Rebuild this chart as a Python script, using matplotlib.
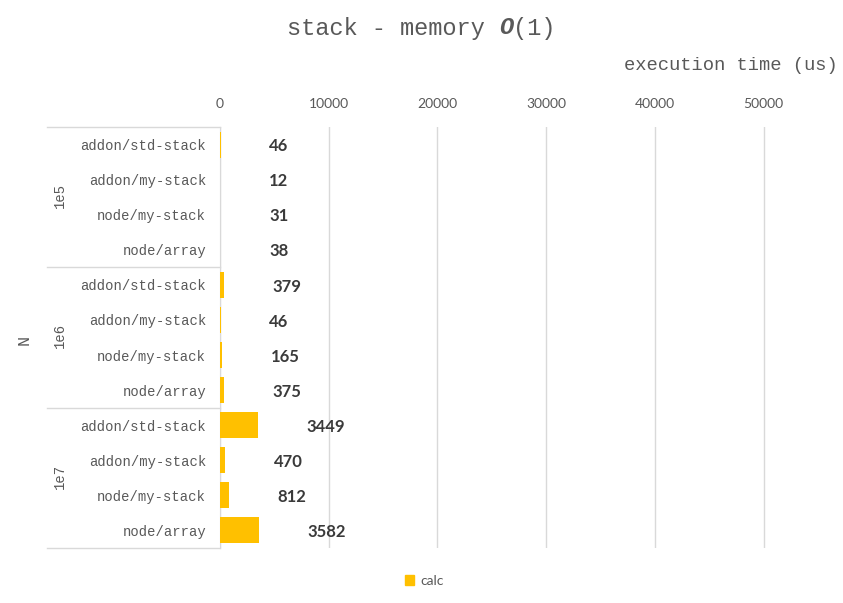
import matplotlib
matplotlib.use("Agg")
import matplotlib.pyplot as plt
from matplotlib.patches import Patch
import numpy as np

# data, top to bottom
groups = ["1e5", "1e6", "1e7"]
impls = ["addon/std-stack", "addon/my-stack", "node/my-stack", "node/array"]
calc_1e5 = [46, 12, 31, 38]
calc_1e6 = [379, 46, 165, 375]
calc_1e7 = [3449, 470, 812, 3582]
x_ticks = [0, 10000, 20000, 30000, 40000, 50000]

MONO = "Liberation Mono"
SANS = "Lato"
BAR = "#FFC000"
GRAY = "#595959"
GRID = "#D9D9D9"

W, H = 843, 603
fig = plt.figure(figsize=(W / 100, H / 100), dpi=100)
ax = fig.add_axes([220 / W, (H - 548) / H, (818 - 220) / W, (548 - 127) / H])

values = calc_1e5 + calc_1e6 + calc_1e7
labels = impls * len(groups)
y = np.arange(len(values))

ax.barh(y, values, height=0.74, color=BAR, zorder=3)
ax.set_ylim(len(values) - 0.5, -0.5)
ax.set_xlim(0, 55000)

for yi, v in zip(y, values):
    ax.annotate(str(v), (v, yi), xytext=(35, -1.2), textcoords="offset points",
                ha="left", va="center", fontsize=12, fontweight="bold",
                family=SANS, color="#3A3A3A")

# x axis on top
ax.xaxis.tick_top()
ax.set_xticks(x_ticks)
ax.set_xticklabels([str(t) for t in x_ticks], family=SANS, fontsize=10, color=GRAY)
ax.tick_params(axis="x", length=0, pad=12)
ax.grid(axis="x", color=GRID, linewidth=1, zorder=0)

ax.set_yticks(y)
ax.set_yticklabels(labels, family=MONO, fontsize=10, color=GRAY)
ax.tick_params(axis="y", length=0, pad=10)
for t in ax.get_yticklabels():
    t.set_y(t.get_position()[1])

for s in ["top", "right", "bottom"]:
    ax.spines[s].set_visible(False)
ax.spines["left"].set_color(GRID)

# group boxes
x_left = (47 - 220) / (818 - 220)
trans = ax.get_yaxis_transform()
for b in [-0.5, 3.5, 7.5, 11.5]:
    ax.plot([x_left, 0], [b, b], transform=trans, color=GRID, lw=1, clip_on=False)
x_grp = (60 - 220) / (818 - 220)
for i, g in enumerate(groups):
    ax.text(x_grp, i * 4 + 1.45, g, transform=trans, rotation=90, ha="center",
            va="center", family=MONO, fontsize=10, color=GRAY)

fig.text(24 / W, 1 - 340 / H, "N", rotation=90, ha="center", va="center",
         family=MONO, fontsize=12, color=GRAY)
fig.text(838 / W, 1 - 65 / H, "execution time (us)", ha="right", va="center",
         family=MONO, fontsize=13.5, color=GRAY)

# title with bold italic O
fig.canvas.draw()
r = fig.canvas.get_renderer()
parts = [("stack - memory ", "normal", "normal"), ("O", "bold", "italic"), ("(1)", "normal", "normal")]
texts = []
for s, w, st in parts:
    texts.append(fig.text(0, 1 - 28 / H, s, ha="left", va="center", family=MONO,
                          fontsize=17, color=GRAY, fontweight=w, fontstyle=st))
widths = [t.get_window_extent(r).width for t in texts]
x0 = W / 2 - sum(widths) / 2
for t, w in zip(texts, widths):
    t.set_x(x0 / W)
    x0 += w

fig.legend(handles=[Patch(color=BAR, label="calc")], loc="center",
           bbox_to_anchor=(424 / W, 1 - 581 / H), frameon=False, handlelength=0.7,
           handleheight=0.7, handletextpad=0.4, prop={"family": SANS, "size": 10},
           labelcolor=GRAY)

fig.savefig("out.png", dpi=100)
